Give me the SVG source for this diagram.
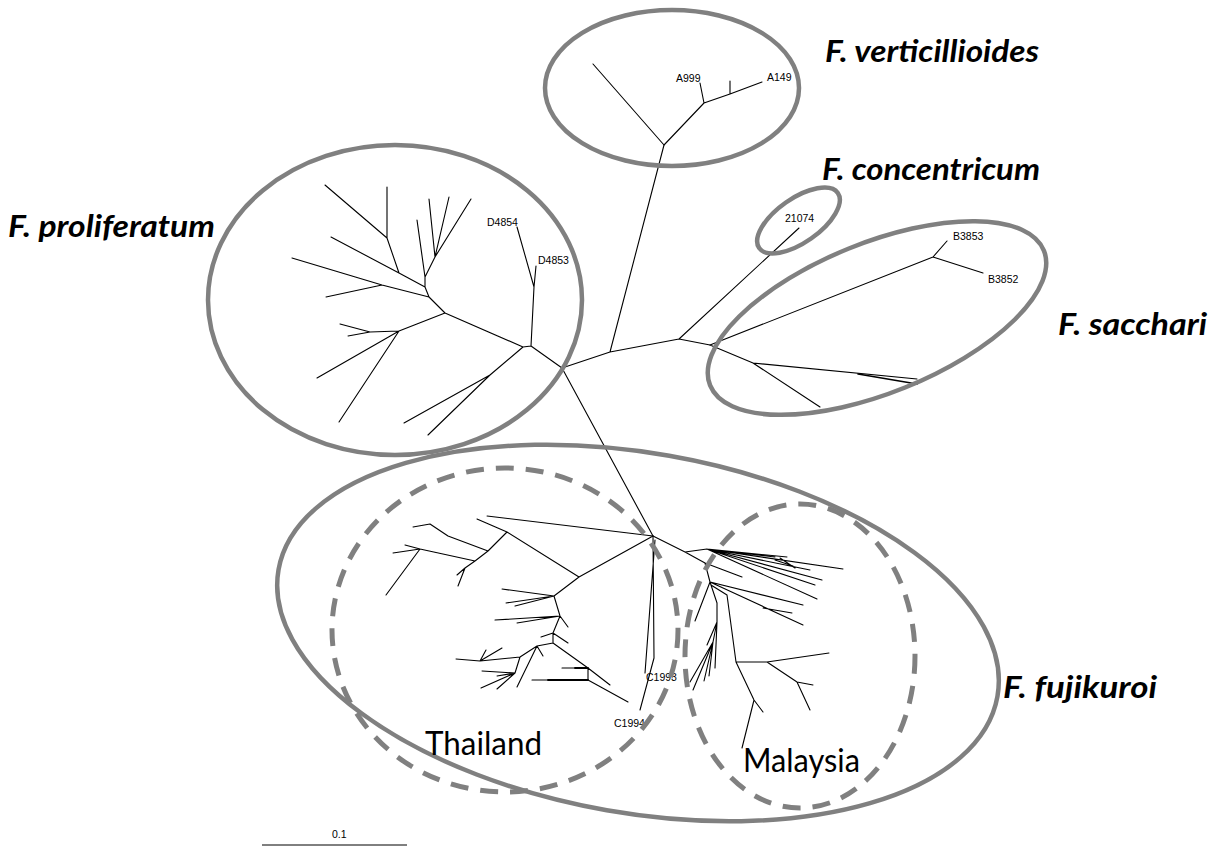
<svg xmlns="http://www.w3.org/2000/svg" width="1217" height="850" viewBox="0 0 1217 850">
<style>
.br{stroke:#000;stroke-width:1.1;fill:none;stroke-linecap:round;stroke-linejoin:round}
.clade{fill:none;stroke:#808080;stroke-width:4.5}
.dash{fill:none;stroke:#808080;stroke-width:5;stroke-dasharray:18 12}
.sp{font-family:Lato,"Liberation Sans",sans-serif;font-weight:bold;font-style:italic;font-size:30px;fill:#000}
.geo{font-family:Lato,"Open Sans",sans-serif;font-size:32px;fill:#000}
.tip{font-family:"Liberation Sans",Arial,sans-serif;font-size:10.5px;fill:#000}
</style>
<rect width="1217" height="850" fill="#fff"/>

<g id="connectors">
  <!-- backbone -->
  <path class="br" d="M562,368 L610,352 L679,339 L710,345 M610,352 L664,145 M679,339 L799,228 M562,368 L653,536"/>
  <!-- verticillioides -->
  <path class="br" d="M664,145 L593,64 M664,145 L704,103 L700,83 M704,103 L730,94 L762,82 M730,94 L730,81"/>
  <!-- proliferatum -->
  <path class="br" d="M562,368 L531,346 L534,287 L517,227 M534,287 L536,266 M531,346 L523,347 L490,375 L404,423 M490,375 L428,435
    M523,347 L445,313 L429,297 L425,287 L425,277
    M445,313 L399,331 L317,378 M399,331 L339,422 M399,331 L370,332 L340,324 M370,332 L348,336
    M429,297 L382,285 L292,258 M382,285 L326,297
    M425,287 L399,273 L331,237 M399,273 L387,238 L325,185 M387,238 L387,187
    M425,277 L417,220 M425,277 L435,257 L429,199 M435,257 L449,197 M435,257 L471,199"/>
  <!-- sacchari -->
  <path class="br" d="M710,345 L933,257 L947,241 M933,257 L983,273 M710,345 L753,363 L820,407 M753,363 L917,379"/>
  <path class="br" style="stroke-width:1.6" d="M858,374 L917,384"/>
  <!-- fujikuroi: Thailand side -->
  <path class="br" d="M653,536 L487,516 M653,536 L579,577
    M579,577 L507,532 L477,519 M507,532 L488,551 L448,536 L430,524 L413,527
    M488,551 L475,561 L420,549 L405,545 M420,549 L393,553 M420,549 L386,595
    M475,561 L465,568 L457,575 M465,568 L458,586
    M579,577 L554,596 L502,589 M554,596 L506,603 M554,596 L515,606
    M554,596 L560,616 L568,627 M560,616 L495,620 M560,616 L517,623
    M560,616 L553,633 L541,637 M553,633 L568,643 M553,633 L553,643
    M553,643 L537,646 L517,687 M537,646 L543,656 M537,646 L520,657 L480,661 L456,659 M480,661 L486,650 M480,661 L502,648
    M520,657 L515,673 L482,671 M515,673 L497,676 M515,673 L481,688 M515,673 L497,689
    M553,643 L588,668 L610,685 M588,668 L562,668 M588,668 L588,680 L628,702 M588,680 L532,680"/>
  <path class="br" style="stroke-width:1.8" d="M588,680 L548,680 M588,668 L575,668"/>
  <!-- fujikuroi: C1993 / C1994 -->
  <path class="br" d="M655,540 L645,673 M653,536 L654,658 L640,710"/>
  <!-- fujikuroi: Malaysia side -->
  <path class="br" d="M653,536 L685,552 L705,563 L710,582 L717,603 L717,622 L715,668
    M685,552 L707,549 L787,557 M707,549 L775,557 M707,549 L843,569 M707,549 L810,570 M707,549 L822,580 M707,549 L815,585 M707,549 L817,599
    M775,560 L793,566 M780,558 L795,568
    M705,563 L742,577
    M710,582 L803,605 M710,582 L803,625 M763,608 L792,613 M710,582 L695,621
    M711,585 L727,595 L736,662 L767,662 L829,653 M767,662 L797,682 L813,685 M797,682 L810,710
    M736,662 L754,700 L763,712 M754,700 L742,748
    M717,622 L707,645 M717,622 L713,642 L690,682 M713,642 L693,690 M713,642 L704,681 M713,642 L709,676"/>
</g>

<g id="verticillioides">
  <ellipse class="clade" cx="672" cy="88" rx="127" ry="78"/>
  <text class="tip" x="676" y="82">A999</text>
  <text class="tip" x="767" y="81">A149</text>
  <text class="sp" x="825" y="62" textLength="214" lengthAdjust="spacingAndGlyphs">F. verticillioides</text>
</g>

<g id="concentricum">
  <ellipse class="clade" cx="0" cy="0" rx="48" ry="22" transform="translate(798.5,220.5) rotate(-35)"/>
  <text class="tip" x="785" y="222">21074</text>
  <text class="sp" x="822" y="180" textLength="218" lengthAdjust="spacingAndGlyphs">F. concentricum</text>
</g>

<g id="proliferatum">
  <ellipse class="clade" cx="395" cy="300" rx="187" ry="155"/>
  <text class="tip" x="487" y="226">D4854</text>
  <text class="tip" x="538" y="264">D4853</text>
  <text class="sp" x="8" y="237" textLength="207" lengthAdjust="spacingAndGlyphs">F. proliferatum</text>
</g>

<g id="sacchari">
  <ellipse class="clade" cx="0" cy="0" rx="180" ry="75" transform="translate(877,318) rotate(-22)"/>
  <text class="tip" x="953" y="240">B3853</text>
  <text class="tip" x="988" y="283">B3852</text>
  <text class="sp" x="1058" y="335" textLength="149" lengthAdjust="spacingAndGlyphs">F. sacchari</text>
</g>

<g id="fujikuroi">
  <ellipse class="clade" cx="0" cy="0" rx="365" ry="180" transform="translate(638,633) rotate(10)"/>
  <text class="tip" x="646" y="681">C1993</text>
  <text class="tip" x="614" y="727">C1994</text>
  <text class="sp" x="1003" y="698" textLength="154" lengthAdjust="spacingAndGlyphs">F. fujikuroi</text>
</g>

<g id="thailand">
  <ellipse class="dash" cx="505" cy="630" rx="173" ry="162"/>
  <text class="geo" x="425" y="755" textLength="117" lengthAdjust="spacingAndGlyphs">Thailand</text>
</g>

<g id="malaysia">
  <ellipse class="dash" cx="800" cy="656" rx="115" ry="152"/>
  <text class="geo" x="743" y="772" textLength="117" lengthAdjust="spacingAndGlyphs">Malaysia</text>
</g>

<g id="scalebar">
  <line x1="262" y1="845" x2="407" y2="845" stroke="#000" stroke-width="1"/>
  <text class="tip" x="332" y="838">0.1</text>
</g>
</svg>
